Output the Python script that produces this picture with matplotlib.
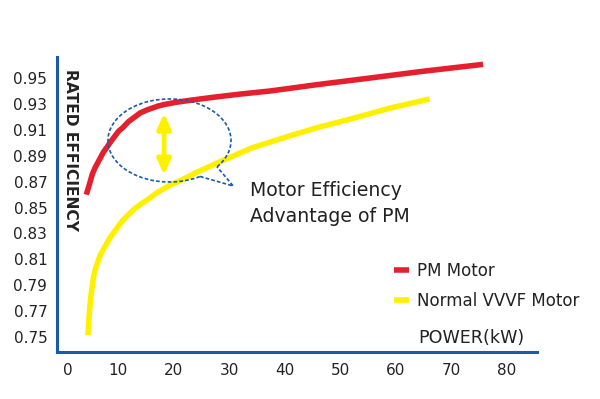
import matplotlib
matplotlib.use("Agg")
import matplotlib.pyplot as plt
import matplotlib.transforms as mtransforms
from matplotlib.patches import Arc
from matplotlib.lines import Line2D

plt.rcParams['font.family'] = ['DejaVu Sans']

# ---- data ----
pm_kw = [4.3, 4.8, 5.4, 5.9, 6.4, 6.9, 7.4, 8.0, 8.7, 9.4, 10.1, 10.9, 11.9, 13.0, 14.0, 15.2, 16.2,
         17.2, 18.3, 19.4, 21.0, 23.0, 27.1, 32.0, 37.4, 46.0, 55.3, 65.0, 75.7]
pm_eff = [0.860, 0.867, 0.876, 0.881, 0.885, 0.889, 0.893, 0.8965, 0.901, 0.905, 0.909, 0.912, 0.9165,
          0.920, 0.9232, 0.9255, 0.927, 0.9285, 0.9297, 0.9306, 0.9318, 0.933, 0.9353, 0.9378, 0.9402,
          0.9452, 0.9502, 0.9555, 0.9608]

vvvf_kw = [4.6, 4.7, 4.8, 5.0, 5.2, 5.4, 5.6, 5.9, 6.3, 6.8, 7.3, 8.0, 8.6, 9.3, 10.1, 10.9, 12.0, 13.0,
           14.1, 15.2, 17.2, 19.4, 21.8, 24.2, 28.4, 34.0, 40.4, 46.0, 52.3, 59.0, 66.1]
vvvf_eff = [0.7513, 0.758, 0.765, 0.776, 0.784, 0.790, 0.796, 0.8016, 0.807, 0.813, 0.817, 0.8224,
            0.8268, 0.831, 0.8358, 0.8402, 0.845, 0.849, 0.8526, 0.8557, 0.862, 0.8673, 0.872, 0.8773,
            0.8855, 0.896, 0.9048, 0.912, 0.919, 0.927, 0.934]

x_ticks = [0, 10, 20, 30, 40, 50, 60, 70, 80]
y_ticks = [0.75, 0.77, 0.79, 0.81, 0.83, 0.85, 0.87, 0.89, 0.91, 0.93, 0.95]
y_ticklabels = ["0.75", "0.77", "0.79", "0.81", "0.83", "0.85", "0.87", "0.89", "0.91", "0.93", "0.95"]

series_names = ["PM Motor", "Normal VVVF Motor"]

RED = "#e5202e"
YELLOW = "#fff000"
BLUE = "#1a5aa8"
TXT = "#222222"

fig = plt.figure(figsize=(6.0, 3.99), dpi=100)
ax = fig.add_axes([57/600, 1-352/399, (537-57)/600, (352-57)/399])

ax.plot(pm_kw, pm_eff, color=RED, lw=4.0, solid_capstyle='butt', solid_joinstyle='round', zorder=3, label=series_names[0])
ax.plot(vvvf_kw, vvvf_eff, color=YELLOW, lw=4.0, solid_capstyle='butt', solid_joinstyle='round', zorder=2, label=series_names[1])

ax.set_xlim(-0.97, 85.4)
ax.set_ylim(0.7382, 0.9665)

ax.set_xticks(x_ticks)
ax.set_xticklabels([str(v) for v in x_ticks])
ax.set_yticks(y_ticks)
ax.set_yticklabels(y_ticklabels)
ax.tick_params(axis='both', length=0, labelsize=11, labelcolor=TXT)
ax.tick_params(axis='y', pad=7)
ax.tick_params(axis='x', pad=8)

for s in ['top', 'right']:
    ax.spines[s].set_visible(False)
for s in ['left', 'bottom']:
    ax.spines[s].set_color(BLUE)
    ax.spines[s].set_linewidth(2.2)

# shift the "0" label slightly right as in the reference
lbl0 = ax.get_xticklabels()[0]
lbl0.set_transform(lbl0.get_transform() + mtransforms.ScaledTranslation(5/100, 0, fig.dpi_scale_trans))

# y axis title (rotated)
fig.text(70/600, 1-69/399, "RATED EFFICIENCY", rotation=270, ha='center', va='top',
         fontsize=11.2, fontweight='bold', color=TXT)

# x axis title
fig.text(418/600, 1-338/399, "POWER(kW)", ha='left', va='center', fontsize=12.6, color=TXT)

# double arrow
ax.annotate('', xy=(18.3, 0.9231), xytext=(18.3, 0.875),
            arrowprops=dict(arrowstyle='<|-|>,head_length=0.9,head_width=0.4',
                            lw=3.4, color=YELLOW, shrinkA=0, shrinkB=0,
                            mutation_scale=10),
            zorder=4)

# callout ellipse (in points around a data-anchored centre)
cx, cy = 19.27, 0.9019
tr = mtransforms.Affine2D().scale(fig.dpi/72) + mtransforms.ScaledTranslation(cx, cy, ax.transData)
arc = Arc((0, 0), 88.6, 59.8, theta1=-29, theta2=310.3, transform=tr,
          color=BLUE, lw=1.2, linestyle=(0, (2.2, 1.3)), zorder=5)
ax.add_patch(arc)
tail = Line2D([22.0, 45.9, 34.2], [-25.9, -32.8, -18.9], transform=tr,
              color=BLUE, lw=1.2, linestyle=(0, (2.2, 1.3)), zorder=5)
ax.add_line(tail)

fig.text(250/600, 1-190/399, "Motor Efficiency", ha='left', va='center', fontsize=13.6, color=TXT)
fig.text(250/600, 1-216.5/399, "Advantage of PM", ha='left', va='center', fontsize=13.6, color=TXT)

# legend
leg = ax.legend(loc='upper left', bbox_to_anchor=(394/600, 1-262/399), bbox_transform=fig.transFigure,
                frameon=False, fontsize=12, handlelength=0.9, handletextpad=0.5,
                labelspacing=0.72, borderpad=0, borderaxespad=0)
for t in leg.get_texts():
    t.set_color(TXT)

fig.savefig("out.png", dpi=100)
